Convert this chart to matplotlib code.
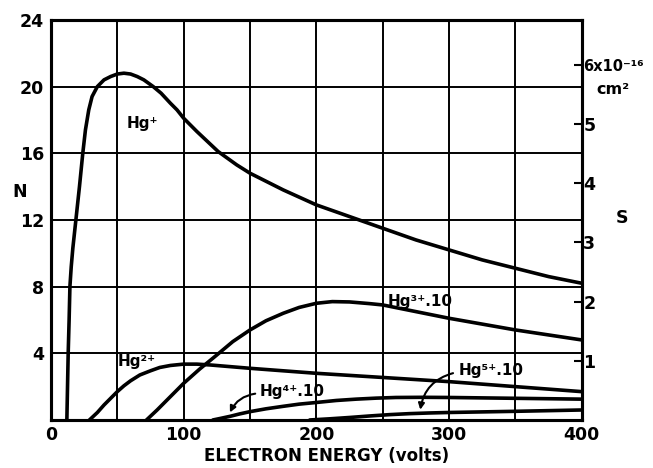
import numpy as np
import matplotlib
matplotlib.use("Agg")
import matplotlib.pyplot as plt

plt.rcParams['font.family'] = ['DejaVu Sans']
plt.rcParams['font.weight'] = 'bold'

# electron energy (volts) and N for each ion curve
hg1_v = [12, 12.5, 13, 13.7, 14.3, 15.3, 16.5, 18.8, 21.5, 24, 26, 28.5, 31, 35, 40, 45, 50, 55,
         60, 65, 70, 77, 83, 90, 95, 100, 110, 118, 126, 140, 150, 175, 200, 225, 250, 275,
         300, 325, 350, 375, 400]
hg1_n = [0, 2, 4, 6, 8, 9.2, 10.3, 12, 14, 16, 17.4, 18.6, 19.4, 20.0, 20.4, 20.6, 20.75, 20.8,
         20.75, 20.6, 20.4, 20.0, 19.6, 19.0, 18.6, 18.1, 17.3, 16.7, 16.1, 15.3, 14.8, 13.8,
         12.9, 12.2, 11.5, 10.8, 10.2, 9.6, 9.1, 8.6, 8.2]

hg2_v = [29, 35, 40, 45, 50, 55, 60, 67, 75, 82, 90, 100, 110, 120, 135, 150, 175, 200,
         250, 300, 350, 400]
hg2_n = [0, 0.45, 0.9, 1.3, 1.7, 2.05, 2.35, 2.7, 2.95, 3.15, 3.27, 3.35, 3.35, 3.3, 3.2,
         3.1, 2.95, 2.8, 2.55, 2.3, 2.0, 1.7]

hg3_v = [72, 80, 90, 100, 112, 125, 137, 150, 162, 175, 187, 200, 212, 225, 240, 250, 275,
         300, 325, 350, 375, 400]
hg3_n = [0, 0.6, 1.4, 2.2, 3.05, 3.9, 4.7, 5.4, 5.95, 6.4, 6.75, 7.0, 7.1, 7.08, 6.98, 6.9,
         6.5, 6.1, 5.75, 5.4, 5.1, 4.8]

hg4_v = [122, 128, 135, 142, 150, 162, 175, 187, 200, 215, 230, 245, 260, 280, 300, 350, 400]
hg4_n = [0, 0.1, 0.22, 0.36, 0.5, 0.67, 0.82, 0.95, 1.05, 1.17, 1.25, 1.31, 1.35, 1.36, 1.35,
         1.3, 1.25]

hg5_v = [195, 210, 225, 240, 255, 270, 285, 300, 350, 400]
hg5_n = [0, 0.07, 0.15, 0.24, 0.32, 0.38, 0.42, 0.45, 0.52, 0.6]

x_ticks = [0, 100, 200, 300, 400]
n_ticks = [4, 8, 12, 16, 20, 24]
s_ticks = [1, 2, 3, 4, 5, 6]
s_labels = ['1', '2', '3', '4', '5', '6x10\u207b\u00b9\u2076']

fig = plt.figure(figsize=(6.53, 4.68), dpi=100)
ax = fig.add_axes([0.078, 0.1026, 0.813, 0.855])

lw = 2.6
for v, n in [(hg1_v, hg1_n), (hg2_v, hg2_n), (hg3_v, hg3_n), (hg4_v, hg4_n), (hg5_v, hg5_n)]:
    ax.plot(v, n, color='black', lw=lw, solid_joinstyle='round', solid_capstyle='round', zorder=3)

ax.set_xlim(0, 400)
ax.set_ylim(0, 24)
ax.set_xticks(x_ticks)
ax.set_xticks([50, 150, 250, 350], minor=True)
ax.set_yticks(n_ticks)
ax.grid(True, which='both', color='black', lw=1.4)
ax.tick_params(which='both', length=0, labelsize=12.5)
ax.tick_params(axis='x', pad=4)
ax.tick_params(axis='y', pad=5)
for sp in ax.spines.values():
    sp.set_linewidth(2.2)

ax2 = ax.twinx()
ax2.set_ylim(0, 6.76)
ax2.set_yticks(s_ticks)
ax2.set_yticklabels(s_labels)
ax2.tick_params(axis='y', direction='in', length=6, width=1.5, pad=1, labelsize=12.5)
ax2.get_yticklabels()[-1].set_fontsize(10.5)
for sp in ax2.spines.values():
    sp.set_linewidth(2.2)
fig.text(0.913, 0.808, 'cm\u00b2', fontsize=11.5, fontweight='bold', ha='left', va='center')

fig.text(0.5, 0.026, 'ELECTRON ENERGY (volts)', fontsize=12, fontweight='bold', ha='center', va='center')
fig.text(0.03, 0.59, 'N', fontsize=12.5, fontweight='bold', ha='center', va='center')
fig.text(0.953, 0.535, 'S', fontsize=12.5, fontweight='bold', ha='center', va='center')

fs = 11
ax.text(57, 17.8, 'Hg\u207a', fontsize=fs, ha='left', va='center')
ax.text(50, 3.5, 'Hg\u00b2\u207a', fontsize=fs, ha='left', va='center')
ax.text(254, 7.1, 'Hg\u00b3\u207a.10', fontsize=fs, ha='left', va='center')
ax.text(157, 1.7, 'Hg\u2074\u207a.10', fontsize=fs, ha='left', va='center')
ax.text(307, 2.95, 'Hg\u2075\u207a.10', fontsize=fs, ha='left', va='center')

ax.annotate('', xy=(134, 0.3), xytext=(156, 1.6),
            arrowprops=dict(arrowstyle='-|>', color='black', lw=1.5,
                            mutation_scale=9, connectionstyle='arc3,rad=0.3'))
ax.annotate('', xy=(278, 0.45), xytext=(305, 2.85),
            arrowprops=dict(arrowstyle='-|>', color='black', lw=1.5,
                            mutation_scale=9, connectionstyle='arc3,rad=0.35'))

fig.savefig('out.png', dpi=100)
